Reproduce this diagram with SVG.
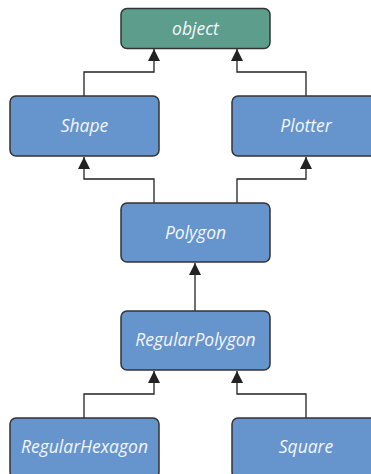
<svg xmlns="http://www.w3.org/2000/svg" width="371" height="474" viewBox="0 0 371 474">
<defs>
<marker id="arr" markerWidth="12" markerHeight="12" viewBox="0 0 12 12" refX="12" refY="6" orient="auto" markerUnits="userSpaceOnUse">
<path d="M0,0 L12,6 L0,12 Z" fill="#222"/>
</marker>
<style>
.box{fill:#6694cd;stroke:#333;stroke-width:1.5}
.root{fill:#5c9e8b;stroke:#333;stroke-width:1.5}
.lbl{font-family:"Open Sans","Liberation Sans",sans-serif;font-style:italic;font-size:17.5px;fill:#f4f6fb;text-anchor:middle;dominant-baseline:central}
.conn{fill:none;stroke:#222;stroke-width:1.3}
</style>
</defs>
<rect width="371" height="474" fill="#ffffff"/>
<g id="connectors">
<path class="conn" d="M84,96 V72 H154 V49" marker-end="url(#arr)"/>
<path class="conn" d="M306,96 V72 H237 V49" marker-end="url(#arr)"/>
<path class="conn" d="M154,203 V179 H84 V157" marker-end="url(#arr)"/>
<path class="conn" d="M237,203 V179 H306 V157" marker-end="url(#arr)"/>
<path class="conn" d="M195,311 V263" marker-end="url(#arr)"/>
<path class="conn" d="M84,418 V394 H154 V371" marker-end="url(#arr)"/>
<path class="conn" d="M306,418 V394 H237 V371" marker-end="url(#arr)"/>
</g>
<g id="object">
<rect class="root" x="121" y="8.5" width="149" height="40" rx="6"/>
<text class="lbl" x="195.5" y="27.5">object</text>
</g>
<g id="Shape">
<rect class="box" x="10" y="96" width="149" height="60" rx="6"/>
<text class="lbl" x="84.5" y="125">Shape</text>
</g>
<g id="Plotter">
<rect class="box" x="232" y="96" width="149" height="60" rx="6"/>
<text class="lbl" x="306" y="125">Plotter</text>
</g>
<g id="Polygon">
<rect class="box" x="121" y="203" width="149" height="59" rx="6"/>
<text class="lbl" x="195.5" y="231.5">Polygon</text>
</g>
<g id="RegularPolygon">
<rect class="box" x="121" y="311" width="149" height="59" rx="6"/>
<text class="lbl" x="195.5" y="338.5">RegularPolygon</text>
</g>
<g id="RegularHexagon">
<rect class="box" x="10" y="418" width="149" height="60" rx="6"/>
<text class="lbl" x="84.5" y="446">RegularHexagon</text>
</g>
<g id="Square">
<rect class="box" x="232" y="418" width="149" height="60" rx="6"/>
<text class="lbl" x="306" y="446">Square</text>
</g>
</svg>
